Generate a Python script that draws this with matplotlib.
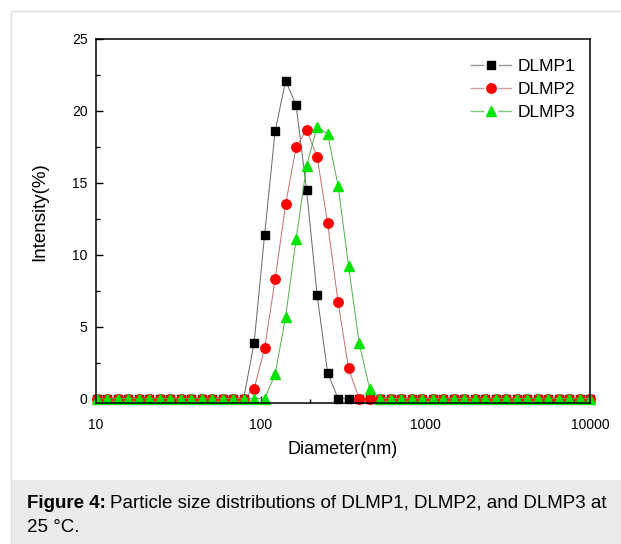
import matplotlib
matplotlib.use("Agg")
import matplotlib.pyplot as plt
from matplotlib.lines import Line2D
from matplotlib.patches import Rectangle
from matplotlib.ticker import LogLocator, MultipleLocator, NullFormatter, FixedLocator, FixedFormatter

# ------------------------------------------------------------------
# Data: DLS size bins (nm) and intensity (%)
# ------------------------------------------------------------------
diameter = [10.10, 11.70, 13.54, 15.69, 18.17, 21.04, 24.36, 28.21, 32.67, 37.84,
            43.82, 50.75, 58.77, 68.06, 78.82, 91.28, 105.7, 122.4, 141.8, 164.2,
            190.1, 220.2, 255.0, 295.3, 342.0, 396.1, 458.7, 531.2, 615.1, 712.4,
            825.0, 955.4, 1106, 1281, 1484, 1718, 1990, 2305, 2669, 3091,
            3580, 4145, 4801, 5560, 6439, 7456, 8635, 10000]

dlmp1 = [0.0] * 15 + [3.9, 11.4, 18.6, 22.1, 20.4, 14.5, 7.2, 1.8] + [0.0] * 25
dlmp2 = [0.0] * 15 + [0.7, 3.5, 8.3, 13.5, 17.5, 18.7, 16.8, 12.2, 6.7, 2.1] + [0.0] * 23
dlmp3 = [0.0] * 17 + [1.7, 5.7, 11.1, 16.2, 18.9, 18.4, 14.8, 9.2, 3.9, 0.7] + [0.0] * 21

series_names = ["DLMP1", "DLMP2", "DLMP3"]
x_ticks = [10, 100, 1000, 10000]
x_labels = ["10", "100", "1000", "10000"]
y_ticks = [0, 5, 10, 15, 20, 25]

W, H = 621, 544
plt.rcParams['font.family'] = ['Liberation Sans', 'DejaVu Sans']
plt.rcParams['lines.scale_dashes'] = False

fig = plt.figure(figsize=(W / 100, H / 100), dpi=100)

def px(x0, y0, x1, y1):
    """pixel box (top-left origin) -> figure fraction [l, b, w, h]"""
    return [x0 / W, 1 - y1 / H, (x1 - x0) / W, (y1 - y0) / H]

# page frame + caption band (behind the axes)
fig.patches.append(Rectangle((11 / W, -0.01), 1, 1.01 - 11 / H, transform=fig.transFigure,
                             facecolor='white', edgecolor='#dddddd', lw=1.0, zorder=-10))
fig.patches.append(Rectangle((11.5 / W, -0.01), 1, (H - 480) / H + 0.01,
                             transform=fig.transFigure,
                             facecolor='#ebebeb', edgecolor='none', zorder=-9))

ax = fig.add_axes(px(96, 39, 590, 403))
ax.set_zorder(2)
ax.patch.set_alpha(0)

styles = [
    dict(color='#666666', marker='s', ms=6.2, mfc='black', mec='black'),
    dict(color='#c07070', marker='o', ms=6.8, mfc='#ff0000', mec='#ff0000'),
    dict(color='#50b050', marker='^', ms=7.2, mfc='#00e400', mec='#00e400'),
]
legend_line = ['#999999', '#d0a0a0', '#80c880']

for ys, st in zip([dlmp1, dlmp2, dlmp3], styles):
    ax.plot(diameter, ys, lw=0.7, clip_on=False, **st)

ax.set_xscale('log')
ax.set_xlim(10, 10000)
ax.set_ylim(-0.3, 25)

ax.xaxis.set_major_locator(FixedLocator(x_ticks))
ax.xaxis.set_major_formatter(FixedFormatter(x_labels))
ax.xaxis.set_minor_locator(LogLocator(base=10, subs=range(2, 10)))
ax.xaxis.set_minor_formatter(NullFormatter())
ax.yaxis.set_major_locator(FixedLocator(y_ticks))
ax.yaxis.set_minor_locator(MultipleLocator(2.5))

ax.tick_params(which='both', direction='in', top=False, right=False, labelsize=10)
ax.tick_params(which='major', length=5, width=1.0)
ax.tick_params(which='minor', length=3, width=1.0)
ax.tick_params(axis='y', pad=6)
ax.tick_params(axis='x', pad=11)
for s in ax.spines.values():
    s.set_linewidth(1.1)

ax.set_xlabel('Diameter(nm)', fontsize=13, labelpad=6)
ax.set_ylabel('Intensity(%)', fontsize=13.5)
ax.yaxis.set_label_coords(-0.097, 0.527)

# legend handles: short line pieces with a gap around the marker
handles = []
for name, st, lc in zip(series_names, styles, legend_line):
    lst = dict(st)
    lst['color'] = lc
    handles.append(Line2D([], [], lw=1.0, linestyle=(0, (10.0, 10.0)), label=name, **lst))
ax.legend(handles=handles, loc='upper right', frameon=False, fontsize=12.5,
          handlelength=2.4, handletextpad=0.35, labelspacing=0.45, borderaxespad=0.0,
          bbox_to_anchor=(0.985, 0.965))

# caption: bold prefix + normal text
cap_y1 = 1 - 503 / H
cap_y2 = 1 - 527 / H
t1 = fig.text(27 / W, cap_y1, 'Figure 4:', fontsize=13.5, fontweight='bold', va='center')
r = fig.canvas.get_renderer()
bb = t1.get_window_extent(renderer=r)
fig.text(bb.x1 / W + 4 / W, cap_y1,
         'Particle size distributions of DLMP1, DLMP2, and DLMP3 at',
         fontsize=13.5, va='center')
fig.text(27 / W, cap_y2, '25 °C.', fontsize=13.5, va='center')

fig.savefig('out.png', dpi=100)
